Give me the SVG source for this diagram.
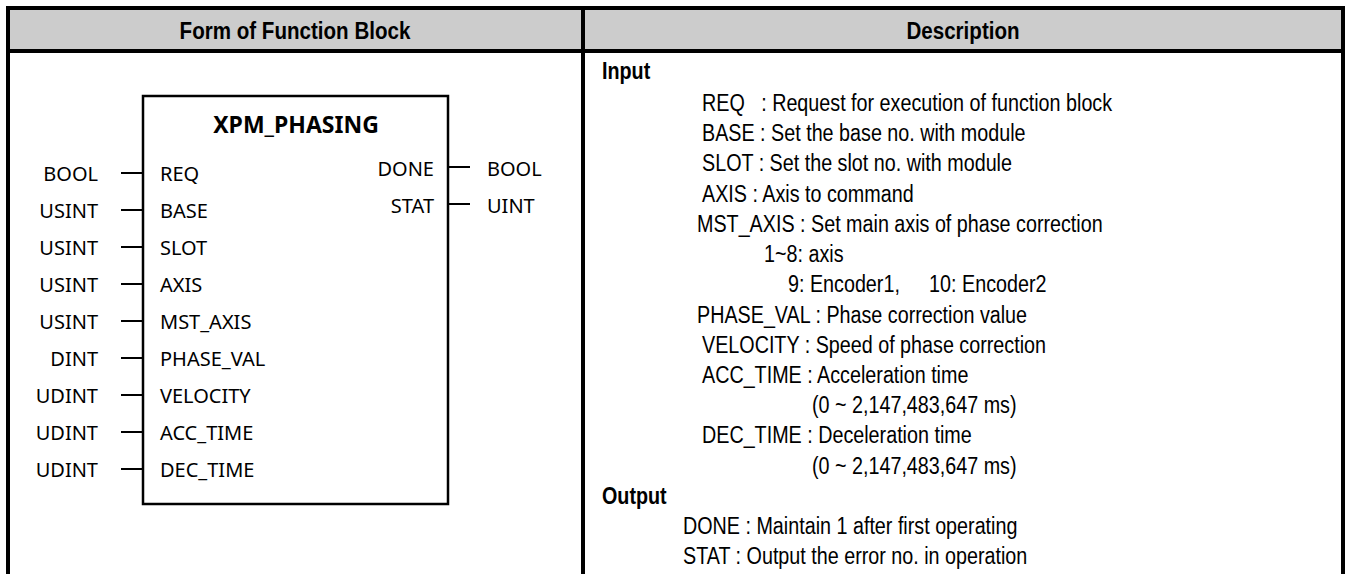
<svg xmlns="http://www.w3.org/2000/svg" width="1349" height="574" viewBox="0 0 1349 574">
<style>
.hdr{font-family:"Liberation Sans",Arial,sans-serif;font-weight:bold;font-size:24.5px;fill:#000;text-anchor:middle}
.fb{font-family:"Noto Sans","Open Sans",sans-serif;font-size:20px;fill:#000}
.fbt{font-family:"Noto Sans","Open Sans",sans-serif;font-size:23px;font-weight:bold;fill:#000;text-anchor:middle}
.r{text-anchor:end}
.d{font-family:"Liberation Sans",Arial,sans-serif;font-size:23.5px;fill:#000}
.db{font-family:"Liberation Sans",Arial,sans-serif;font-size:23.5px;font-weight:bold;fill:#000}
.pin{stroke:#000;stroke-width:2;fill:none}
.grid{stroke:#000;stroke-width:4;fill:none}
</style>
<rect width="1349" height="574" fill="#fff"/>
<g id="table">
<rect x="8" y="8" width="1335" height="43" fill="#cccccc"/>
<line class="grid" x1="6" y1="8" x2="1345" y2="8"/>
<line class="grid" x1="6" y1="51" x2="1345" y2="51"/>
<line class="grid" x1="8" y1="6" x2="8" y2="574"/>
<line class="grid" x1="583" y1="6" x2="583" y2="574"/>
<line class="grid" x1="1343" y1="6" x2="1343" y2="574"/>
<text class="hdr" transform="translate(295,39) scale(0.84,1)">Form of Function Block</text>
<text class="hdr" transform="translate(963,39) scale(0.84,1)">Description</text>
</g>
<g id="function-block">
<rect x="143" y="96" width="305" height="408" fill="#fff" stroke="#000" stroke-width="2.5"/>
<text class="fbt" x="296" y="133">XPM_PHASING</text>
</g>
<g id="connectors">
<line class="pin" x1="121" y1="173" x2="143" y2="173"/>
<line class="pin" x1="121" y1="210" x2="143" y2="210"/>
<line class="pin" x1="121" y1="247" x2="143" y2="247"/>
<line class="pin" x1="121" y1="284" x2="143" y2="284"/>
<line class="pin" x1="121" y1="321" x2="143" y2="321"/>
<line class="pin" x1="121" y1="358" x2="143" y2="358"/>
<line class="pin" x1="121" y1="395" x2="143" y2="395"/>
<line class="pin" x1="121" y1="432" x2="143" y2="432"/>
<line class="pin" x1="121" y1="469" x2="143" y2="469"/>
<line class="pin" x1="448" y1="167" x2="470" y2="167"/>
<line class="pin" x1="448" y1="204" x2="470" y2="204"/>
</g>
<g id="inputs">
<text class="fb r" x="98" y="181">BOOL</text><text class="fb" x="160" y="181">REQ</text>
<text class="fb r" x="98" y="218">USINT</text><text class="fb" x="160" y="218">BASE</text>
<text class="fb r" x="98" y="255">USINT</text><text class="fb" x="160" y="255">SLOT</text>
<text class="fb r" x="98" y="292">USINT</text><text class="fb" x="160" y="292">AXIS</text>
<text class="fb r" x="98" y="329">USINT</text><text class="fb" x="160" y="329">MST_AXIS</text>
<text class="fb r" x="98" y="366">DINT</text><text class="fb" x="160" y="366">PHASE_VAL</text>
<text class="fb r" x="98" y="403">UDINT</text><text class="fb" x="160" y="403">VELOCITY</text>
<text class="fb r" x="98" y="440">UDINT</text><text class="fb" x="160" y="440">ACC_TIME</text>
<text class="fb r" x="98" y="477">UDINT</text><text class="fb" x="160" y="477">DEC_TIME</text>
</g>
<g id="outputs">
<text class="fb r" x="434" y="176">DONE</text><text class="fb" x="487" y="176">BOOL</text>
<text class="fb r" x="434" y="213">STAT</text><text class="fb" x="487" y="213">UINT</text>
</g>
<g id="description">
<text class="db" transform="translate(602,79) scale(0.84,1)">Input</text>
<text class="d" transform="translate(702,111) scale(0.84,1)" xml:space="preserve">REQ   : Request for execution of function block</text>
<text class="d" transform="translate(702,141) scale(0.84,1)">BASE : Set the base no. with module</text>
<text class="d" transform="translate(702,171) scale(0.84,1)">SLOT : Set the slot no. with module</text>
<text class="d" transform="translate(702,201.5) scale(0.84,1)">AXIS : Axis to command</text>
<text class="d" transform="translate(697,232) scale(0.84,1)">MST_AXIS : Set main axis of phase correction</text>
<text class="d" transform="translate(764,262) scale(0.84,1)">1~8: axis</text>
<text class="d" transform="translate(788,292) scale(0.84,1)">9: Encoder1,<tspan x="168">10: Encoder2</tspan></text>
<text class="d" transform="translate(697,322.5) scale(0.84,1)">PHASE_VAL : Phase correction value</text>
<text class="d" transform="translate(702,352.5) scale(0.84,1)">VELOCITY : Speed of phase correction</text>
<text class="d" transform="translate(702,383) scale(0.84,1)">ACC_TIME : Acceleration time</text>
<text class="d" transform="translate(812,413) scale(0.84,1)">(0 ~ 2,147,483,647 ms)</text>
<text class="d" transform="translate(702,443) scale(0.84,1)">DEC_TIME : Deceleration time</text>
<text class="d" transform="translate(812,473.5) scale(0.84,1)">(0 ~ 2,147,483,647 ms)</text>
<text class="db" transform="translate(602,503.5) scale(0.84,1)">Output</text>
<text class="d" transform="translate(683,534) scale(0.84,1)">DONE : Maintain 1 after first operating</text>
<text class="d" transform="translate(683,564) scale(0.84,1)">STAT : Output the error no. in operation</text>
</g>
</svg>
